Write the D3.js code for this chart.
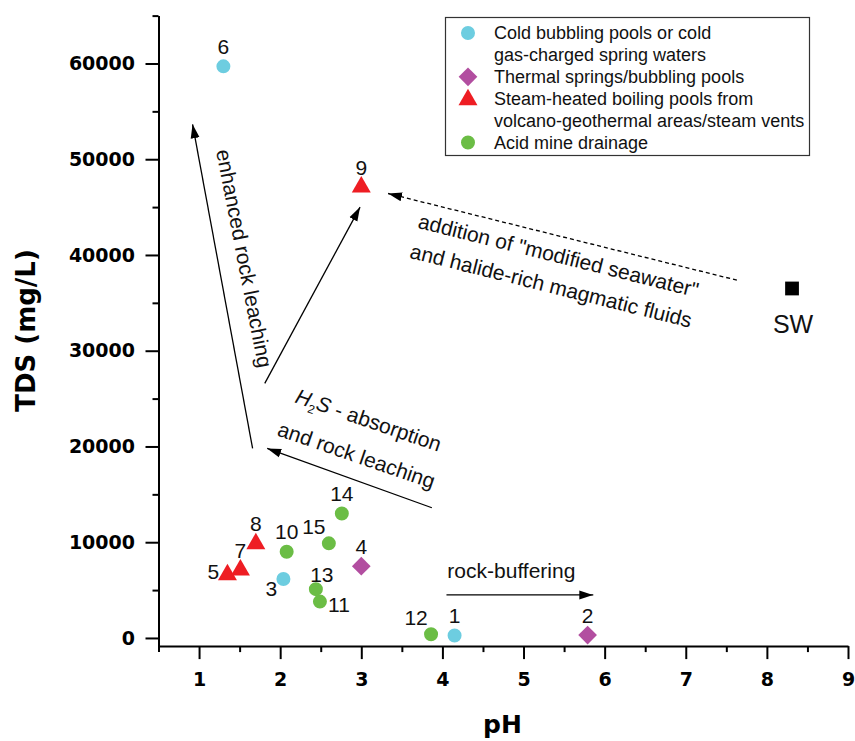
<!DOCTYPE html>
<html>
<head>
<meta charset="utf-8">
<script src="https://cdn.jsdelivr.net/npm/d3@7"></script>
<style>
  body { margin: 0; background: #fff; }
  div.chart { width: 855px; height: 741px; }
</style>
</head>
<body>
<div class="chart"></div>
<script>
//sample data
const sampleIds  = ["1","2","3","4","5","6","7","8","9","10","11","12","13","14","15"];
const sampleType = ["cold","thermal","cold","thermal","steam","cold","steam","steam","steam",
                    "amd","amd","amd","amd","amd","amd"];
const phValues   = [4.15, 5.79, 2.04, 3.00, 1.35, 1.30, 1.51, 1.70, 3.00, 2.08, 2.49, 3.86, 2.44, 2.76, 2.60];
const tdsValues  = [250, 300, 6150, 7500, 6600, 59700, 7100, 9850, 47100, 9000, 3800, 380, 5100, 13000, 9880];
//where the number sits next to each point
const labelSide  = ["top","top","bottomleft","top","left","top","top","top","top",
                    "top","right","topleft","topright","top","topleft"];

//seawater reference point
const seawater = { ph: 8.31, tds: 36500, label: "SW" };

//legend
const legendTypes = ["cold","thermal","steam","amd"];
const legendLines = [
  ["Cold bubbling pools or cold", "gas-charged spring waters"],
  ["Thermal springs/bubbling pools"],
  ["Steam-heated boiling pools from", "volcano-geothermal areas/steam vents"],
  ["Acid mine drainage"]
];

//axis ticks
const xTicks = [1,2,3,4,5,6,7,8,9];
const xMinor = [0.5,1.5,2.5,3.5,4.5,5.5,6.5,7.5,8.5];
const yTicks = [0,10000,20000,30000,40000,50000,60000];
const yMinor = [5000,15000,25000,35000,45000,55000,65000];

//process arrows [from, to] in data units
const arrows = [
  { from: [1.66, 19800], to: [0.92, 53650], dashed: false },
  { from: [1.81, 26590], to: [2.985, 45000], dashed: false },
  { from: [3.87, 13600], to: [1.84, 19800], dashed: false },
  { from: [7.63, 37370], to: [3.33, 46420], dashed: true },
  { from: [4.05, 4490],  to: [5.86, 4490],  dashed: false }
];

function wrapper(){

var w = 855, h = 741;

var svg = d3.select("div.chart")
            .append("svg")
            .attr("width", w)
            .attr("height", h);

var x = d3.scaleLinear().domain([0.5, 9]).range([158.5, 848]);
var y = d3.scaleLinear().domain([-850, 65000]).range([646.1, 15.6]);

var color = d3.scaleOrdinal()
              .domain(["cold","thermal","steam","amd"])
              .range(["#6dcde0","#b24ea0","#ee1d23","#6bbd45"]);

var symbolFor = {
  cold: d3.symbol().type(d3.symbolCircle).size(154),
  thermal: d3.symbol().type(d3.symbolSquare).size(175),
  steam: d3.symbol().type(d3.symbolTriangle).size(156),
  amd: d3.symbol().type(d3.symbolCircle).size(154)
};

var tickFont = "'DejaVu Sans', sans-serif";
var textFont = "'Liberation Sans', Arial, sans-serif";

//axes
var xAxis = svg.append("g")
    .attr("transform", "translate(0," + y.range()[0] + ")")
    .call(d3.axisBottom(x).tickValues(xTicks).tickSize(13).tickSizeOuter(0).tickPadding(13));
var xMinorAxis = svg.append("g")
    .attr("transform", "translate(0," + y.range()[0] + ")")
    .call(d3.axisBottom(x).tickValues(xMinor).tickSize(6).tickFormat(""));
xMinorAxis.select(".domain").remove();

var yAxis = svg.append("g")
    .attr("transform", "translate(" + x.range()[0] + ",0)")
    .call(d3.axisLeft(y).tickValues(yTicks).tickSize(13).tickSizeOuter(0).tickPadding(10.5).tickFormat(d3.format("d")));
var yMinorAxis = svg.append("g")
    .attr("transform", "translate(" + x.range()[0] + ",0)")
    .call(d3.axisLeft(y).tickValues(yMinor).tickSize(6).tickFormat(""));
yMinorAxis.select(".domain").remove();

svg.selectAll(".domain, .tick line")
   .attr("stroke", "#000")
   .attr("stroke-width", 2);

svg.selectAll(".tick text")
   .attr("font-family", tickFont)
   .attr("font-weight", "bold")
   .attr("font-size", 19)
   .attr("fill", "#000");

//axis titles
svg.append("text")
   .attr("transform", "translate(35," + 330.5 + ") rotate(-90)")
   .attr("text-anchor", "middle")
   .attr("font-family", tickFont)
   .attr("font-weight", "bold")
   .attr("font-size", 26)
   .text("TDS (mg/L)");

svg.append("text")
   .attr("x", 502.5)
   .attr("y", 733)
   .attr("text-anchor", "middle")
   .attr("font-family", tickFont)
   .attr("font-weight", "bold")
   .attr("font-size", 25)
   .text("pH");

//arrow heads
var defs = svg.append("defs");
defs.append("marker")
    .attr("id", "head")
    .attr("markerUnits", "userSpaceOnUse")
    .attr("viewBox", "0 -5 14 10")
    .attr("refX", 14).attr("refY", 0)
    .attr("markerWidth", 14).attr("markerHeight", 10)
    .attr("orient", "auto")
  .append("path")
    .attr("d", "M0,-4.5L14,0L0,4.5Z")
    .attr("fill", "#000");

svg.selectAll(".arrow")
   .data(arrows)
   .enter()
   .append("line")
     .attr("class", "arrow")
     .attr("x1", d => x(d.from[0]))
     .attr("y1", d => y(d.from[1]))
     .attr("x2", d => x(d.to[0]))
     .attr("y2", d => y(d.to[1]))
     .attr("stroke", "#000")
     .attr("stroke-width", 1.3)
     .attr("stroke-dasharray", d => d.dashed ? "4,3" : null)
     .attr("marker-end", "url(#head)");

//annotation text
function note(px, py, angle, lines, spacing){
  var g = svg.append("g")
             .attr("transform", "translate(" + x(px) + "," + y(py) + ") rotate(" + angle + ")");
  var t = g.append("text")
           .attr("text-anchor", "middle")
           .attr("font-family", textFont)
           .attr("font-size", 21)
           .attr("fill", "#111");
  lines.forEach(function(line, i){
    t.append("tspan").attr("x", 0).attr("y", i * spacing).text(line);
  });
  return t;
}

note(1.47, 39500, 79, ["enhanced rock leaching"], 0);
note(5.41, 39200, 14, ['addition of "modified seawater"', "and halide-rich magmatic fluids"], 31);
note(4.85, 6250, 0, ["rock-buffering"], 0);

//H2S label with subscript
var hs = svg.append("g")
            .attr("transform", "translate(" + x(3.06) + "," + y(22025) + ") rotate(19)");
var hsText = hs.append("text")
               .attr("text-anchor", "middle")
               .attr("font-family", textFont)
               .attr("font-size", 21)
               .attr("fill", "#111");
hsText.append("tspan").attr("font-style", "italic").text("H");
hsText.append("tspan").attr("font-size", 12).attr("dy", 5).text("2");
hsText.append("tspan").attr("font-style", "italic").attr("dy", -5).text("S");
hsText.append("tspan").text(" - absorption");
hs.append("text")
  .attr("text-anchor", "middle")
  .attr("font-family", textFont)
  .attr("font-size", 21)
  .attr("fill", "#111")
  .attr("x", 0).attr("y", 37)
  .text("and rock leaching");

//sample points
var samples = sampleIds.map((id, i) => ({
  id: id, type: sampleType[i], ph: phValues[i], tds: tdsValues[i], side: labelSide[i]
}));

svg.selectAll(".pt")
   .data(samples)
   .enter()
   .append("path")
     .attr("class", "pt")
     .attr("d", d => symbolFor[d.type]())
     .attr("transform", d => "translate(" + x(d.ph) + "," + y(d.tds) + ")" + (d.type === "thermal" ? " rotate(45)" : ""))
     .attr("fill", d => color(d.type));

var offsets = {
  top: [0, -20], left: [-14, -3], right: [19, 3],
  topleft: [-15, -17], topright: [6, -15], bottomleft: [-12, 9]
};

svg.selectAll(".lbl")
   .data(samples)
   .enter()
   .append("text")
     .attr("class", "lbl")
     .attr("x", d => x(d.ph) + offsets[d.side][0])
     .attr("y", d => y(d.tds) + offsets[d.side][1])
     .attr("dy", "0.36em")
     .attr("text-anchor", "middle")
     .attr("font-family", textFont)
     .attr("font-size", 21)
     .attr("fill", "#111")
     .text(d => d.id);

//seawater
svg.append("path")
   .attr("d", d3.symbol().type(d3.symbolSquare).size(190)())
   .attr("transform", "translate(" + x(seawater.ph) + "," + y(seawater.tds) + ")")
   .attr("fill", "#000");
svg.append("text")
   .attr("x", x(seawater.ph) + 1)
   .attr("y", y(seawater.tds) + 45)
   .attr("text-anchor", "middle")
   .attr("font-family", textFont)
   .attr("font-size", 25)
   .attr("fill", "#111")
   .text(seawater.label);

//legend
var legend = svg.append("g");
legend.append("rect")
      .attr("x", 445.5).attr("y", 17.5)
      .attr("width", 364).attr("height", 138)
      .attr("fill", "#fff")
      .attr("stroke", "#333")
      .attr("stroke-width", 1.2);

var rowY = 33, rowStep = 21.9;
var row = 0;
legendTypes.forEach(function(type, i){
  var cy = rowY + row * rowStep;
  legend.append("path")
        .attr("d", symbolFor[type]())
        .attr("transform", "translate(468," + (cy + (type === "steam" ? 1 : 0)) + ")" + (type === "thermal" ? " rotate(45)" : ""))
        .attr("fill", color(type));
  legendLines[i].forEach(function(line){
    legend.append("text")
          .attr("x", 494)
          .attr("y", rowY + row * rowStep)
          .attr("dy", "0.36em")
          .attr("font-family", textFont)
          .attr("font-size", 18)
          .attr("fill", "#111")
          .text(line);
    row++;
  });
});

}
window.onload = wrapper();
</script>
</body>
</html>
